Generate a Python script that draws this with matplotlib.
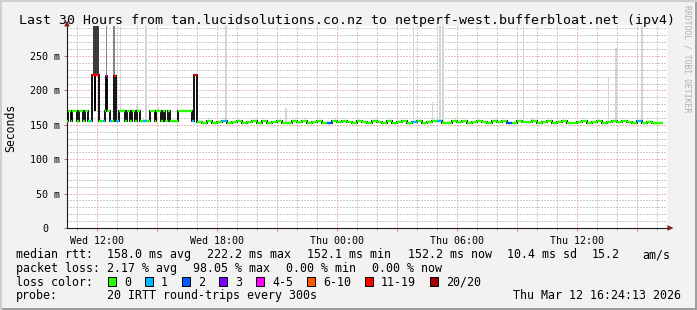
import matplotlib
matplotlib.use("Agg")

import matplotlib.pyplot as plt
import numpy as np
from matplotlib.patches import Polygon, Rectangle
from matplotlib.ticker import FuncFormatter, MultipleLocator

plt.rcParams["font.family"] = ["DejaVu Sans Mono", "DejaVu Sans"]

W, H = 697, 310

# time axis in hours since Wed 00:00, rtt in ms
early_start = [10.50, 10.565, 10.715, 10.765, 11.015, 11.115, 11.315, 11.415, 11.565, 11.665,
               11.79, 11.89, 11.94, 12.09, 12.315, 12.39, 12.465, 12.54, 12.69, 12.765,
               12.84, 12.965, 13.115, 13.415, 13.515, 13.665, 13.765, 13.915, 14.015, 14.165,
               14.315, 14.515, 14.665, 14.915, 14.965, 15.215, 15.315, 15.415, 15.565, 15.665,
               16.065, 16.765, 16.865]
early_ms = [155, 170, 155, 170, 155, 170, 155, 170, 155, 155,
            222, 170, 222, 155, 156, 170, 221, 170, 155, 155,
            221, 155, 170, 155, 170, 155, 170, 155, 170, 155,
            155, 155, 170, 155, 170, 155, 170, 155, 170, 155,
            170, 155, 222]
early_loss = [0, 0, 0, 0, 0, 0, 0, 0, 0, 1,
              6, 5, 6, 0, 1, 0, 4, 0, 1, 0,
              6, 1, 0, 0, 0, 0, 0, 0, 0, 0,
              1, 0, 0, 0, 0, 0, 0, 0, 0, 0,
              0, 1, 6]

steady_start = 17.0
steady_step = 0.25
steady_end = 40.3
steady_ms = [154.5, 153.0, 155.2, 152.6, 154.1, 155.5, 152.9, 154.3, 155.8, 152.5, 153.9, 155.0,
             152.8, 155.3, 152.4, 154.2, 155.6, 153.1, 152.7, 154.8, 153.6, 155.4, 152.6, 154.5,
             155.7, 153.0, 152.3, 154.9, 153.4, 155.2, 154.0, 152.5, 155.1, 153.8, 152.9, 155.3,
             154.4, 152.6, 155.8, 153.3, 154.2, 155.0, 152.4, 153.9, 155.5, 152.8, 154.6, 155.1,
             155.3, 153.2, 152.7, 154.9, 154.1, 155.6, 152.4, 153.8, 155.9, 154.3, 152.6, 154.8,
             154.0, 155.2, 152.9, 152.3, 155.0, 153.4, 154.5, 155.4, 152.7, 153.9, 154.8, 152.5,
             154.6, 155.5, 153.3, 152.4, 154.1, 155.3, 152.9, 153.8, 154.9, 152.6, 154.4, 155.1,
             153.5, 155.4, 154.0, 152.5, 154.8, 153.1, 153.9, 152.6, 152.4, 152.2]
loss_event_h = [18.41, 23.72, 27.81, 29.22, 32.57, 39.17]
loss_event_cls = [1, 2, 1, 1, 2, 1]

# smoke: spread of the individual pings above the median
smoke_h = [11.965, 12.49, 12.88, 13.19, 14.015, 14.44, 15.065, 18.45, 21.465,
           27.84, 28.79, 29.165, 29.315, 33.34, 33.765, 37.59, 37.965, 39.265]
smoke_lo = [222, 221, 221, 170, 170, 155, 170, 154, 154,
            154, 154, 154, 154, 154, 154, 154, 154, 154]
smoke_hi = [300, 300, 300, 300, 177, 300, 176, 300, 175,
            300, 183, 300, 300, 300, 160, 218, 262, 300]
smoke_w = [0.33, 0.06, 0.12, 0.08, 0.08, 0.1, 0.08, 0.08, 0.06,
           0.08, 0.06, 0.08, 0.08, 0.08, 0.06, 0.08, 0.08, 0.08]
smoke_pings = [12, 6, 6, 1, 1, 1, 1, 1, 1, 1, 1, 1, 1, 1, 1, 1, 1, 1]

loss_labels = ["0", "1", "2", "3", "4-5", "6-10", "11-19", "20/20"]
loss_colors = ["#26ff00", "#00b8ff", "#0059ff", "#7e00ff", "#ff00ff", "#ff5500", "#ff0000", "#a10000"]

title = "Last 30 Hours from tan.lucidsolutions.co.nz to netperf-west.bufferbloat.net (ipv4)"


def fx(px):
    return px / W


def fy(py):
    return 1 - py / H


def put(x, y, s, **kw):
    fig.text(fx(x), fy(y), s, va="baseline", fontsize=8.35, **kw)


fig = plt.figure(figsize=(W / 100, H / 100), dpi=100, facecolor="#f2f2f2")

# rrdtool style frame shading
fig.add_artist(Rectangle((0, 0), 1, 2 / H, transform=fig.transFigure, color="#9e9e9e", lw=0))
fig.add_artist(Rectangle((1 - 2 / W, 0), 2 / W, 1, transform=fig.transFigure, color="#9e9e9e", lw=0))
fig.add_artist(Rectangle((0, 1 - 2 / H), 1, 2 / H, transform=fig.transFigure, color="#cfcfcf", lw=0))
fig.add_artist(Rectangle((0, 0), 2 / W, 1, transform=fig.transFigure, color="#cfcfcf", lw=0))

ax = fig.add_axes([fx(66.7), fy(228), 600 / W, 202 / H])
ax.set_xlim(10.5, 40.5)
ax.set_ylim(0, 293.6)
ax.set_facecolor("white")
ax.set_axisbelow(True)
for side in ("top", "right"):
    ax.spines[side].set_visible(False)
for side in ("left", "bottom"):
    ax.spines[side].set_color("#1f1f1f")
    ax.spines[side].set_linewidth(0.8)

ax.xaxis.set_major_locator(MultipleLocator(3))
ax.xaxis.set_minor_locator(MultipleLocator(1))
ax.yaxis.set_major_locator(MultipleLocator(50))
ax.yaxis.set_minor_locator(MultipleLocator(10))
ax.grid(which="minor", color="#9a9a9a", linestyle=(0, (1, 2)), linewidth=0.72)
ax.grid(which="major", color="#e07a7a", linestyle=(0, (1, 2)), linewidth=0.72)


def xlabel(h, pos):
    h = int(round(h))
    if h % 6:
        return ""
    day = "Wed" if h < 24 else "Thu"
    return f"{day} {h % 24:02d}:00"


ax.xaxis.set_major_formatter(FuncFormatter(xlabel))
ax.tick_params(axis="x", which="major", length=2.5, width=0.7, color="#e07a7a", pad=3.2, labelsize=7.2)
ax.tick_params(axis="x", which="minor", length=1.5, width=0.7, color="#9a9a9a")
ax.tick_params(axis="y", which="major", length=2.5, width=0.7, color="#c06060", labelleft=False)
ax.tick_params(axis="y", which="minor", length=0)

ytrans = ax.get_yaxis_transform()
for v in range(0, 251, 50):
    s = f"{v} m" if v else "0"
    shift = 0 if v else 12
    ax.text((60 - 66.7 - shift) / 600, v, s, transform=ytrans, ha="right",
            va="center_baseline", fontsize=7.2)

# smoke
shade = {12: "#3c3c3c", 6: "#858585", 1: "#d4d4d4"}
ax.bar(smoke_h, np.array(smoke_hi) - np.array(smoke_lo), bottom=smoke_lo, width=smoke_w,
       color=[shade[n] for n in smoke_pings], linewidth=0, zorder=2)

# median line coloured by loss
steady_loss = np.zeros(len(steady_ms), dtype=int)
for h, c in zip(loss_event_h, loss_event_cls):
    steady_loss[int((h - steady_start) / steady_step)] = c
steady_starts = steady_start + steady_step * np.arange(len(steady_ms))
starts = np.concatenate([early_start, steady_starts])
edges = np.append(starts, steady_end)
ms = np.concatenate([early_ms, steady_ms])
loss = np.concatenate([early_loss, steady_loss])

ax.stairs(ms, edges, baseline=None, color="black", linewidth=1.3, zorder=3)
ax.hlines(ms, edges[:-1], edges[1:], colors=[loss_colors[c] for c in loss],
          linewidth=1.7, zorder=4, capstyle="butt")

# axis arrows
arrow_c = "#801f1f"
fig.add_artist(Polygon([(fx(67), fy(20.5)), (fx(64.2), fy(26.5)), (fx(69.8), fy(26.5))],
                       closed=True, transform=fig.transFigure, color=arrow_c, lw=0))
fig.add_artist(Polygon([(fx(673.5), fy(228)), (fx(667.5), fy(225.2)), (fx(667.5), fy(230.8))],
                       closed=True, transform=fig.transFigure, color=arrow_c, lw=0))

fig.text(fx(347), fy(24.3), title, ha="center", va="baseline", fontsize=9.5)
fig.text(fx(10.5), fy(128), "Seconds", rotation=90, ha="center", va="center", fontsize=8.3)
fig.text(fx(686.5), fy(5), "RRDTOOL / TOBI OETIKER", rotation=270, ha="center", va="top",
         fontsize=5.9, color="#b0b0b0")

# legend block
put(16, 258, "median rtt:")
put(107, 258, "158.0 ms avg")
put(207, 258, "222.2 ms max")
put(307, 258, "152.1 ms min")
put(408, 258, "152.2 ms now")
put(507, 258, "10.4 ms sd")
put(592, 258, "15.2")
put(642, 258, "am/s")

put(16, 271.7, "packet loss:")
put(107, 271.7, "2.17 % avg")
put(193, 271.7, "98.05 % max")
put(286, 271.7, "0.00 % min")
put(372, 271.7, "0.00 % now")

put(16, 285.5, "loss color:")
bx = 108
for lab, col in zip(loss_labels, loss_colors):
    fig.add_artist(Rectangle((fx(bx), fy(286)), 8 / W, 9 / H, transform=fig.transFigure,
                             facecolor=col, edgecolor="black", linewidth=0.7))
    put(bx + 16, 285.5, lab)
    bx += 16 + 7 * len(lab) + 14

put(16, 299.3, "probe:")
put(107, 299.3, "20 IRTT round-trips every 300s")
fig.text(fx(681), fy(299.3), "Thu Mar 12 16:24:13 2026", ha="right", va="baseline", fontsize=8.35)

fig.savefig("out.png", dpi=100, facecolor=fig.get_facecolor())
